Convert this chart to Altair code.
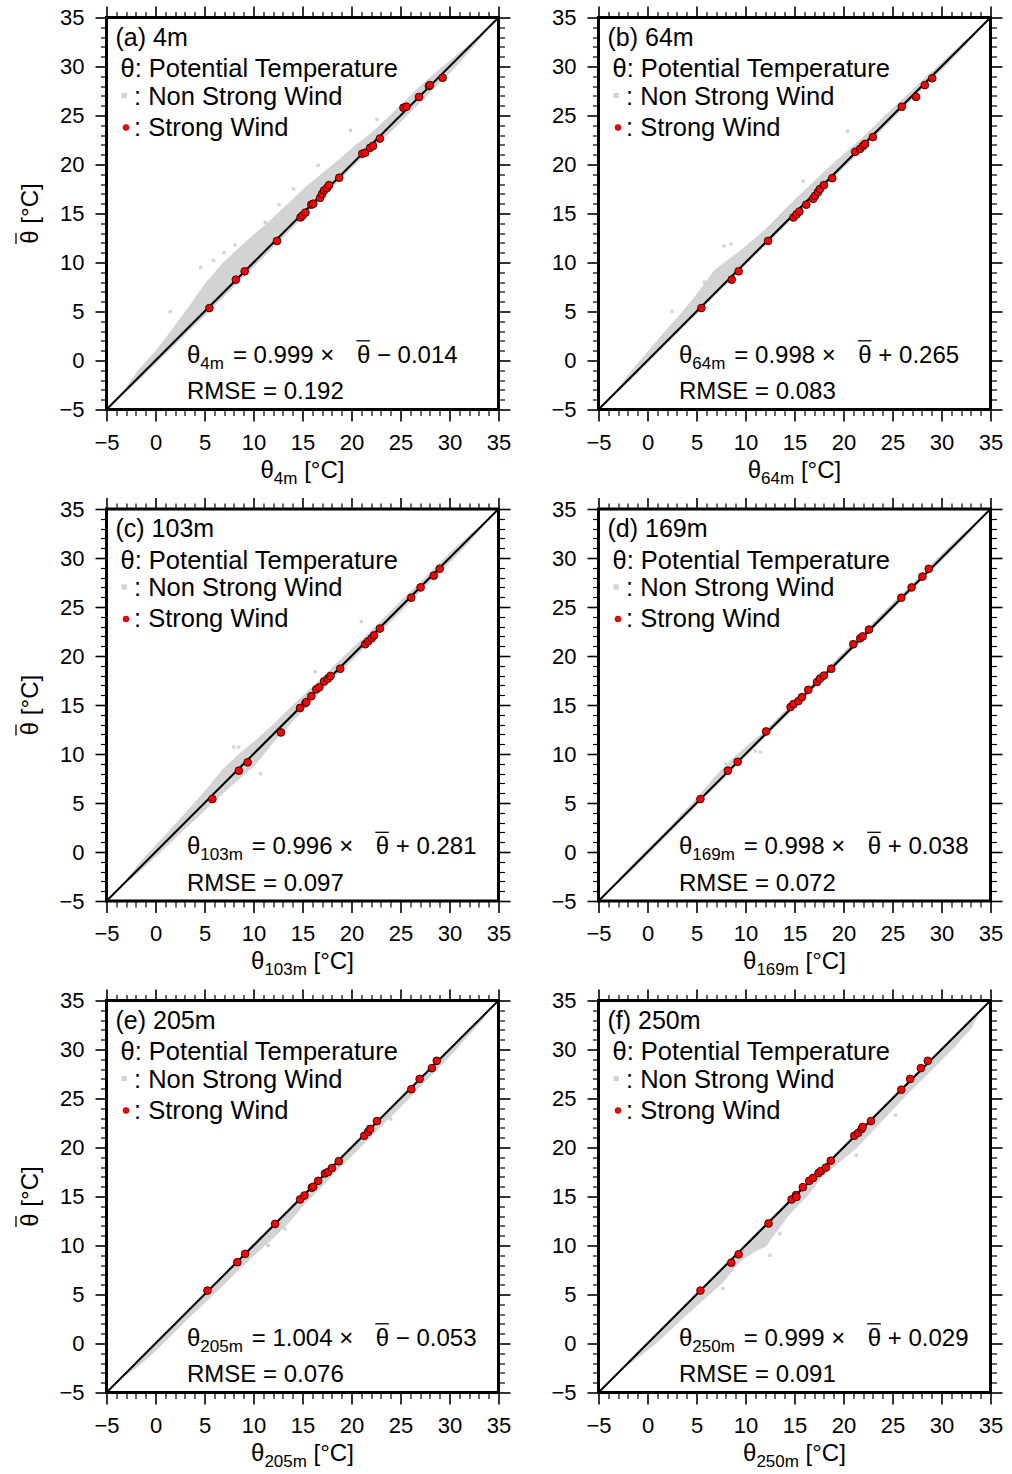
import altair as alt
import pandas as pd

FONT = "Liberation Sans"
GRAY = "#d3d3d3"

# ---------------- data ----------------
letters = ["a", "b", "c", "d", "e", "f"]
heights = ["4m", "64m", "103m", "169m", "205m", "250m"]
slopes = ["0.999", "0.998", "0.996", "0.998", "1.004", "0.999"]
signs = ["\u2212", "+", "+", "+", "\u2212", "+"]
intercepts = ["0.014", "0.265", "0.281", "0.038", "0.053", "0.029"]
rmses = ["0.192", "0.083", "0.097", "0.072", "0.076", "0.091"]

diag_vals = [-5, 35]

# gray band of non-strong-wind samples (x, lower edge, upper edge)
band_x = [-3.0, -1.7, 0.0, 1.7, 3.4, 5.1, 6.8, 8.5, 10.2, 11.9, 13.6, 15.3,
          17.0, 18.7, 20.4, 22.1, 23.8, 25.5, 27.1, 28.8, 30.5, 32.2, 33.6]
a_lo = [-3.2, -2.05, -0.35, 1.3, 3.0, 4.6, 6.3, 8.0, 9.7, 11.4, 13.1, 14.9, 16.6, 18.3, 20.0, 21.6, 23.1, 24.8, 26.4, 28.1, 29.8, 31.7, 33.4]
a_hi = [-2.7, -0.9, 1.0, 3.2, 5.5, 7.9, 9.9, 11.5, 13.0, 14.5, 16.1, 17.7, 19.1, 20.5, 22.0, 23.3, 24.9, 26.5, 28.1, 29.6, 31.0, 32.4, 33.6]
b_lo = [-3.2, -2.0, -0.3, 1.4, 3.1, 4.8, 6.5, 8.2, 9.9, 11.6, 13.3, 15.0, 16.7, 18.4, 20.0, 21.7, 23.4, 25.1, 26.7, 28.4, 30.1, 31.9, 33.4]
b_hi = [-2.8, -1.1, 0.9, 2.9, 4.8, 6.9, 9.2, 10.5, 11.8, 13.3, 15.0, 16.7, 18.3, 19.9, 21.4, 22.9, 24.6, 26.2, 27.7, 29.3, 30.9, 32.5, 33.6]
c_lo = [-3.2, -2.1, -0.5, 1.1, 2.7, 4.3, 5.9, 7.4, 8.9, 11.0, 12.9, 14.7, 16.5, 18.2, 19.9, 21.6, 23.3, 25.0, 26.6, 28.3, 30.0, 31.8, 33.4]
c_hi = [-2.8, -1.2, 0.7, 2.5, 4.4, 6.3, 8.4, 10.0, 11.4, 12.9, 14.6, 16.2, 17.8, 19.5, 21.1, 22.7, 24.4, 26.1, 27.6, 29.3, 31.0, 32.5, 33.6]
d_lo = [-3.2, -2.0, -0.3, 1.4, 3.1, 4.8, 6.5, 8.2, 9.9, 11.6, 13.3, 15.0, 16.7, 18.4, 20.1, 21.8, 23.5, 25.2, 26.8, 28.5, 30.2, 31.9, 33.4]
d_hi = [-2.8, -1.4, 0.3, 2.0, 3.8, 5.6, 7.6, 9.4, 10.9, 12.3, 14.0, 15.7, 17.4, 19.1, 20.8, 22.5, 24.2, 25.9, 27.5, 29.2, 30.9, 32.5, 33.6]
e_lo = [-3.3, -2.3, -0.8, 0.9, 2.6, 4.2, 5.8, 7.5, 9.1, 10.6, 12.3, 14.3, 16.0, 17.8, 19.5, 21.2, 22.9, 24.6, 26.3, 28.0, 29.8, 31.7, 33.3]
e_hi = [-2.9, -1.5, 0.2, 1.9, 3.6, 5.3, 7.0, 8.7, 10.4, 12.1, 13.8, 15.5, 17.2, 18.9, 20.6, 22.3, 24.0, 25.7, 27.3, 29.0, 30.7, 32.4, 33.6]
f_x = [-2.0, -0.5, 0.9, 2.6, 4.3, 6.0, 7.7, 9.4, 11.0, 12.1, 13.1, 14.5, 16.2, 17.9, 19.6, 21.3, 23.0, 24.7, 26.4, 28.1, 29.7, 31.4, 33.1, 33.8]
f_lo = [-2.2, -1.1, 0.0, 1.6, 3.2, 4.7, 6.2, 8.3, 9.4, 9.9, 11.3, 13.2, 14.9, 17.1, 18.5, 19.9, 21.7, 23.5, 25.3, 27.0, 28.6, 30.3, 32.2, 33.6]
f_hi = [-1.8, -0.3, 1.1, 2.8, 4.5, 6.2, 7.9, 9.6, 11.2, 12.3, 13.3, 14.7, 16.4, 18.1, 19.8, 21.5, 23.2, 24.9, 26.6, 28.3, 29.9, 31.6, 33.3, 34.0]

# isolated gray samples away from the band
a_ox = [1.5, 4.6, 5.9, 7.0, 8.1, 11.2, 12.6, 14.1, 16.6, 19.9, 22.6]
a_oy = [5.0, 9.5, 10.2, 11.0, 11.8, 14.1, 15.9, 17.5, 19.9, 23.5, 24.6]
b_ox = [2.5, 5.8, 7.8, 8.5, 15.9, 20.4]
b_oy = [5.0, 8.0, 11.7, 11.9, 18.3, 23.4]
c_ox = [8.0, 8.5, 10.7, 16.3, 21.0]
c_oy = [10.7, 10.7, 8.0, 18.4, 23.5]
d_ox = [11.5, 11.0, 8.0]
d_oy = [10.2, 10.3, 9.0]
e_ox = [13.2, 11.5, 24.0]
e_oy = [11.7, 10.0, 22.9]
f_ox = [25.3, 12.5, 21.3, 7.7, 12.1, 13.5]
f_oy = [23.3, 9.0, 19.2, 5.6, 10.7, 11.2]

# strong-wind samples
a_sx = [5.5, 8.2, 9.1, 12.4, 14.8, 15.0, 15.3, 15.9, 16.1, 16.8, 17.0, 17.2, 17.5, 17.7, 18.75, 21.1, 21.4, 21.9, 22.2, 22.9, 25.3, 25.6, 26.9, 27.9, 28.0, 29.3]
a_sy = [5.35, 8.25, 9.1, 12.2, 14.6, 14.8, 15.1, 15.9, 16.0, 16.6, 17.0, 17.35, 17.6, 17.9, 18.65, 21.1, 21.2, 21.7, 21.9, 22.65, 25.8, 25.9, 26.9, 28.0, 28.1, 28.85]
b_sx = [5.5, 8.6, 9.3, 12.3, 14.9, 15.2, 15.5, 16.2, 16.9, 17.1, 17.4, 17.6, 18.0, 18.85, 21.2, 21.7, 22.0, 22.2, 23.0, 25.95, 27.4, 28.3, 29.05]
b_sy = [5.35, 8.25, 9.1, 12.2, 14.6, 14.9, 15.2, 15.9, 16.5, 16.8, 17.2, 17.5, 17.9, 18.6, 21.3, 21.6, 21.9, 22.1, 22.8, 25.9, 26.9, 28.1, 28.8]
c_sx = [5.8, 8.5, 9.4, 12.8, 14.75, 15.3, 15.4, 15.9, 16.4, 16.7, 17.2, 17.6, 17.85, 18.85, 21.4, 21.7, 22.05, 22.3, 22.9, 26.1, 27.05, 28.4, 29.0]
c_sy = [5.4, 8.3, 9.15, 12.2, 14.7, 15.2, 15.3, 15.9, 16.6, 16.8, 17.4, 17.7, 17.95, 18.7, 21.2, 21.5, 21.8, 22.1, 22.8, 25.95, 27.0, 28.2, 28.9]
d_sx = [5.4, 8.2, 9.2, 12.1, 14.6, 14.9, 15.4, 15.75, 16.4, 17.3, 17.6, 18.0, 18.75, 21.0, 21.7, 21.95, 22.6, 25.9, 26.95, 28.05, 28.7]
d_sy = [5.4, 8.3, 9.2, 12.3, 14.8, 15.1, 15.4, 15.8, 16.55, 17.35, 17.7, 18.0, 18.7, 21.2, 21.8, 22.0, 22.7, 25.95, 27.0, 28.1, 28.9]
e_sx = [5.3, 8.35, 9.15, 12.2, 14.75, 15.2, 15.95, 16.1, 16.6, 17.3, 17.6, 18.0, 18.7, 21.3, 21.7, 21.9, 22.6, 26.1, 26.95, 28.2, 28.7]
e_sy = [5.4, 8.3, 9.15, 12.2, 14.7, 15.1, 15.9, 16.0, 16.6, 17.35, 17.5, 17.9, 18.6, 21.2, 21.6, 21.9, 22.7, 25.95, 27.0, 28.1, 28.85]
f_sx = [5.4, 8.55, 9.3, 12.35, 14.7, 15.15, 15.2, 15.85, 16.5, 16.9, 17.45, 17.7, 18.2, 18.7, 21.1, 21.5, 21.85, 21.95, 22.8, 25.9, 26.8, 27.9, 28.6]
f_sy = [5.4, 8.25, 9.1, 12.25, 14.7, 15.15, 14.95, 15.95, 16.6, 16.9, 17.4, 17.6, 17.95, 18.65, 21.2, 21.5, 21.9, 22.1, 22.7, 25.9, 27.0, 28.1, 28.85]

bands = [(band_x, a_lo, a_hi), (band_x, b_lo, b_hi), (band_x, c_lo, c_hi),
         (band_x, d_lo, d_hi), (band_x, e_lo, e_hi), (f_x, f_lo, f_hi)]
outs = [(a_ox, a_oy), (b_ox, b_oy), (c_ox, c_oy), (d_ox, d_oy), (e_ox, e_oy), (f_ox, f_oy)]
strong = [(a_sx, a_sy), (b_sx, b_sy), (c_sx, c_sy), (d_sx, d_sy), (e_sx, e_sy), (f_sx, f_sy)]

major_vals = list(range(-5, 36, 5))
minor_vals = [v for v in range(-5, 36) if v % 5 != 0]

# ---------------- helpers ----------------
W = {"0": 0.556, "1": 0.556, "2": 0.556, "3": 0.556, "4": 0.556, "5": 0.556,
     "6": 0.556, "7": 0.556, "8": 0.556, "9": 0.556, "m": 0.833}


def sw(s, fs):
    return sum(W.get(ch, 0.556) for ch in s) * fs


PW, PH = 392, 392
SC = alt.Scale(domain=[-5, 35], nice=False, zero=False)
LEG_FS = 25.5
TICK_FS = 22


def ax(orient, labels, minor=False):
    d = dict(orient=orient, domain=False, grid=False, title=None,
             tickColor="black", ticks=True)
    if minor:
        d.update(values=minor_vals, tickSize=6, tickWidth=1.2, labels=False)
    else:
        d.update(values=major_vals, tickSize=11.5, tickWidth=1.6, labels=labels)
        if labels:
            d.update(labelFont=FONT, labelFontSize=TICK_FS, labelColor="black",
                     labelPadding=11, labelFlush=False, labelOverlap=False)
    return alt.Axis(**d)


ONE = alt.Data(values=[{"k": 0}])


def txt(s, x, y, size=24, align="left", baseline="alphabetic", angle=None):
    kw = dict(text=s, font=FONT, fontSize=size, align=align,
              baseline=baseline, color="black")
    if angle is not None:
        kw["angle"] = angle
    return alt.Chart(ONE).mark_text(**kw).encode(x=alt.value(x), y=alt.value(y))


def hrule(x1, x2, y, w=1.3):
    return alt.Chart(ONE).mark_rule(color="black", strokeWidth=w).encode(
        x=alt.value(x1), x2=alt.value(x2), y=alt.value(y))


def vrule(x, y1, y2, w=1.3):
    return alt.Chart(ONE).mark_rule(color="black", strokeWidth=w).encode(
        x=alt.value(x), y=alt.value(y1), y2=alt.value(y2))


def panel(i, left_col):
    bx, blo, bhi = bands[i]
    ox, oy = outs[i]
    sx, sy = strong[i]
    band_df = pd.DataFrame({"x": bx, "lo": blo, "hi": bhi})
    out_df = pd.DataFrame({"x": ox, "y": oy})
    diag_df = pd.DataFrame({"x": diag_vals, "y": diag_vals})
    str_df = pd.DataFrame({"x": sx, "y": sy})

    band = alt.Chart(band_df).mark_area(color=GRAY, opacity=1).encode(
        x=alt.X("x:Q", scale=SC, axis=ax("bottom", True)),
        y=alt.Y("lo:Q", scale=SC, axis=ax("left", True)),
        y2="hi:Q")
    sq = alt.Chart(out_df).mark_square(color=GRAY, size=11, opacity=1).encode(
        x=alt.X("x:Q", scale=SC, axis=ax("bottom", False, minor=True)),
        y=alt.Y("y:Q", scale=SC, axis=ax("left", False, minor=True)))
    line = alt.Chart(diag_df).mark_line(color="black", strokeWidth=2).encode(
        x=alt.X("x:Q", scale=SC, axis=ax("top", False)),
        y=alt.Y("y:Q", scale=SC, axis=ax("right", False)))
    pts = alt.Chart(str_df).mark_point(shape="circle", filled=True, fill="#ff0000",
                                       stroke="black", strokeWidth=0.8, size=60,
                                       opacity=1).encode(
        x=alt.X("x:Q", scale=SC, axis=ax("top", False, minor=True)),
        y=alt.Y("y:Q", scale=SC, axis=ax("right", False, minor=True)))

    layers = [band, sq, line, pts]
    sub = heights[i]
    wsub = sw(sub, 17)
    # legend block
    layers += [
        txt(f"({letters[i]}) {sub}", 9, 28, size=25),
        txt("\u03b8: Potential Temperature", 14, 59.7, size=LEG_FS),
        alt.Chart(ONE).mark_square(color=GRAY, size=28, opacity=1).encode(
            x=alt.value(17.7), y=alt.value(78)),
        txt(": Non Strong Wind", 27.5, 87.3, size=LEG_FS),
        alt.Chart(ONE).mark_point(shape="circle", filled=True, fill="#ff0000",
                                  stroke="#550000", strokeWidth=0.5, size=36,
                                  opacity=1).encode(x=alt.value(19.5), y=alt.value(110)),
        txt(": Strong Wind", 27.5, 118.3, size=LEG_FS),
    ]
    # regression equation
    th_w = 13.3
    eq0 = 80.5 + th_w + wsub + 9
    layers += [
        txt("\u03b8", 80.5, 345),
        txt(sub, 80.5 + th_w, 351, size=17),
        txt(f"= {slopes[i]} \u00d7", eq0, 345),
        txt("\u03b8", eq0 + 124, 345),
        hrule(eq0 + 123.5, eq0 + 137, 323.3),
        txt(f"{signs[i]} {intercepts[i]}", eq0 + 144, 345),
        txt(f"RMSE = {rmses[i]}", 80.5, 381.5),
    ]
    # x title  theta_sub [°C]
    total = th_w + wsub + 6.7 + 40.3
    x0 = PW / 2 - total / 2
    layers += [
        txt("\u03b8", x0, 460),
        txt(sub, x0 + th_w, 466.3, size=17),
        txt("[\u00b0C]", x0 + th_w + wsub + 6.7, 460),
    ]
    # y title (left column only)
    if left_col:
        layers += [
            txt("\u03b8 [\u00b0C]", -75.4, PH / 2, align="center",
                baseline="middle", angle=270),
            vrule(-90.5, 215.5, 226.5),
        ]
    return alt.layer(*layers).resolve_scale(x="independent", y="independent").properties(
        width=PW, height=PH)


rows = []
for r in range(3):
    rows.append(alt.hconcat(panel(2 * r, True), panel(2 * r + 1, False), spacing=36))

chart = alt.vconcat(*rows, spacing=6.5).properties(
    padding={"left": 13.5, "top": 3.5, "right": 0, "bottom": 0}
).configure(font=FONT).configure_view(stroke="black", strokeWidth=3)

chart.save("out.html", embed_options={"renderer": "svg", "actions": False})
